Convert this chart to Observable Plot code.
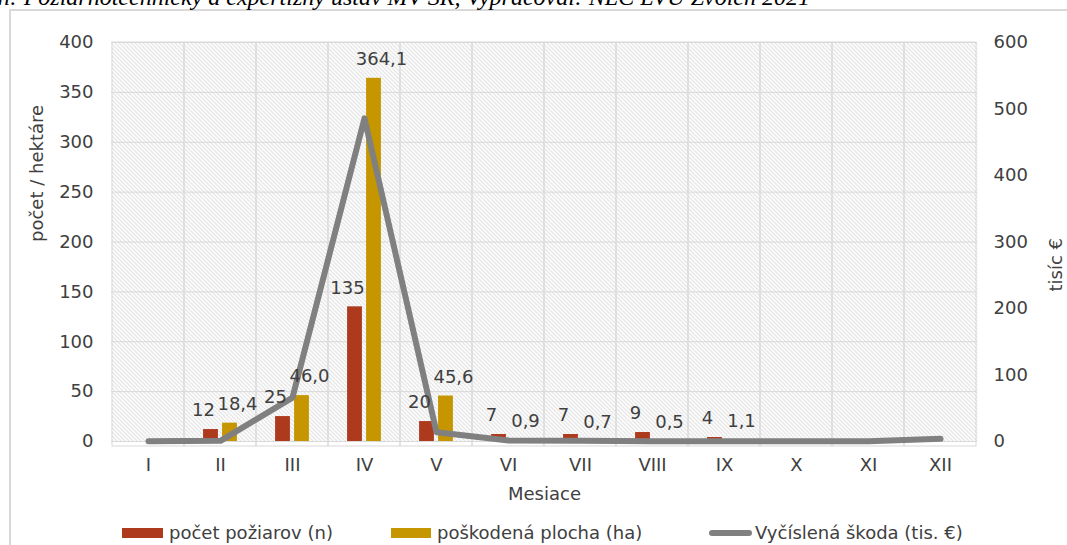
<!DOCTYPE html>
<html>
<head>
<meta charset="utf-8">
<script src="https://cdn.jsdelivr.net/npm/d3@7"></script>
<script src="https://cdn.jsdelivr.net/npm/@observablehq/plot@0.6"></script>
<style>
  html, body { margin: 0; padding: 0; background: #fff; }
  #wrap { position: relative; width: 1067px; height: 545px; overflow: hidden; font-family: "DejaVu Sans", sans-serif; color: #404040; }
  #border { position: absolute; left: 9px; top: 9px; width: 1100px; height: 600px; border: 2px solid #d9d9d9; box-sizing: border-box; }
  #caption { position: absolute; top: -16px; right: 257px; white-space: nowrap; font-family: "Liberation Serif", serif; font-style: italic; font-size: 24px; line-height: 1.1; color: #000; }
  #chart { position: absolute; left: 0; top: 0; }
  .leg { position: absolute; font-size: 18px; line-height: 1; white-space: nowrap; }
  .sw { position: absolute; }
</style>
</head>
<body>
<div id="wrap">
  <div id="border"></div>
  <div id="caption">Prameň: Požiarnotechnický a expertízny ústav MV SR, Vypracoval: NLC LVÚ Zvolen 2021</div>
  <div id="chart"></div>
  <div id="legend"></div>
</div>
<script>
// ---- data ----
const months = ["I", "II", "III", "IV", "V", "VI", "VII", "VIII", "IX", "X", "XI", "XII"];
const fires = [null, 12, 25, 135, 20, 7, 7, 9, 4, null, null, null];          // počet požiarov (n)
const area = [null, 18.4, 46.0, 364.1, 45.6, 0.9, 0.7, 0.5, 1.1, null, null, null]; // poškodená plocha (ha)
const damage = [0.5, 1, 66, 486, 14, 1.5, 1, 0.5, 0.5, 0.3, 0.5, 4];          // Vyčíslená škoda (tis. €)
const leftTicks = [0, 50, 100, 150, 200, 250, 300, 350, 400];
const rightTicks = [0, 100, 200, 300, 400, 500, 600];
const seriesNames = ["počet požiarov (n)", "poškodená plocha (ha)", "Vyčíslená škoda (tis. €)"];

const RED = "#AE3A1E", GOLD = "#C59600", GRAY = "#808080", GRID = "#d9d9d9", TXT = "#404040";
const FONT = "'DejaVu Sans', sans-serif", FS = 18;
const ratio = 400 / 600; // right axis -> left axis

const rows = months.map((m, i) => ({month: m, fires: fires[i], area: area[i], damage: damage[i]}));
const fmt1 = d3.format(".1f");
const comma = v => fmt1(v).replace(".", ",");

const W = 1067, H = 510, ML = 111, MR = 90, MT = 42, MB = 69;
const bw = (W - ML - MR) / months.length;
const half = bw / 2;

const defsMark = () => {
  const svgNS = "http://www.w3.org/2000/svg";
  const g = document.createElementNS(svgNS, "defs");
  g.innerHTML = `<pattern id="hatch" patternUnits="userSpaceOnUse" width="4" height="4">
      <rect width="4" height="4" fill="#ffffff"/>
      <path d="M-1,-1 L5,5 M-1,3 L1,5 M3,-1 L5,1" stroke="#cfcfcf" stroke-width="1"/>
    </pattern>`;
  return g;
};

const chart = Plot.plot({
  width: W, height: H,
  marginLeft: ML, marginRight: MR, marginTop: MT, marginBottom: MB,
  style: {fontFamily: FONT, fontSize: FS + "px", color: TXT, background: "transparent"},
  x: {type: "band", domain: months, padding: 0, axis: null},
  y: {domain: [0, 400], axis: null},
  marks: [
    defsMark,
    Plot.frame({fill: "url(#hatch)", stroke: null}),
    Plot.ruleY(leftTicks, {stroke: GRID, strokeWidth: 1}),
    Plot.barY(months, {x: d => d, y1: -5, y2: 400, fill: "none", stroke: GRID, strokeWidth: 1}),
    Plot.barY(rows, {x: "month", y: "fires", fill: RED, insetLeft: half - 17, insetRight: half + 2}),
    Plot.barY(rows, {x: "month", y: "area", fill: GOLD, insetLeft: half + 2, insetRight: half - 17}),
    Plot.line(rows, {x: "month", y: d => d.damage * ratio, stroke: GRAY, strokeWidth: 6, strokeLinecap: "round", strokeLinejoin: "round"}),
    Plot.text(rows.filter(d => d.fires != null), {x: "month", y: "fires", text: d => String(d.fires), dx: -17, dy: -19, fill: TXT, fontSize: FS}),
    Plot.text(rows.filter(d => d.area != null), {x: "month", y: "area", text: d => comma(d.area), dx: 17, dy: -19, fill: TXT, fontSize: FS}),
    Plot.axisY(leftTicks, {anchor: "left", tickSize: 0, tickPadding: 18, label: null, fill: TXT, fontSize: FS}),
    Plot.axisY(rightTicks.map(v => v * ratio), {anchor: "right", tickSize: 0, tickPadding: 16, tickFormat: v => String(Math.round(v / ratio)), label: null, fill: TXT, fontSize: FS}),
    Plot.axisX(months, {anchor: "bottom", tickSize: 0, tickPadding: 17, label: null, fill: TXT, fontSize: FS}),
    Plot.text(["počet / hektáre"], {frameAnchor: "left", dx: -74, rotate: -90, text: d => d, fill: TXT, fontSize: FS}),
    Plot.text(["tisíc €"], {frameAnchor: "right", dx: 79, dy: -4, rotate: -90, text: d => d, fill: TXT, fontSize: FS}),
    Plot.text(["Mesiace"], {frameAnchor: "bottom", dy: 58, text: d => d, fill: TXT, fontSize: FS})
  ]
});
document.getElementById("chart").appendChild(chart);

// ---- legend ----
const legend = document.getElementById("legend");
const legendItems = [
  {name: seriesNames[0], color: RED, kind: "rect", sx: 122, sw: 41, tx: 169},
  {name: seriesNames[1], color: GOLD, kind: "rect", sx: 391, sw: 40, tx: 437},
  {name: seriesNames[2], color: GRAY, kind: "line", sx: 709, sw: 43, tx: 755}
];
for (const it of legendItems) {
  const s = document.createElement("div");
  s.className = "sw";
  s.style.left = it.sx + "px";
  s.style.width = it.sw + "px";
  s.style.background = it.color;
  if (it.kind === "rect") { s.style.top = "528px"; s.style.height = "10px"; }
  else { s.style.top = "530px"; s.style.height = "6px"; s.style.borderRadius = "3px"; }
  legend.appendChild(s);
  const t = document.createElement("div");
  t.className = "leg";
  t.style.left = it.tx + "px";
  t.style.top = "524px";
  t.textContent = it.name;
  legend.appendChild(t);
}
</script>
</body>
</html>
